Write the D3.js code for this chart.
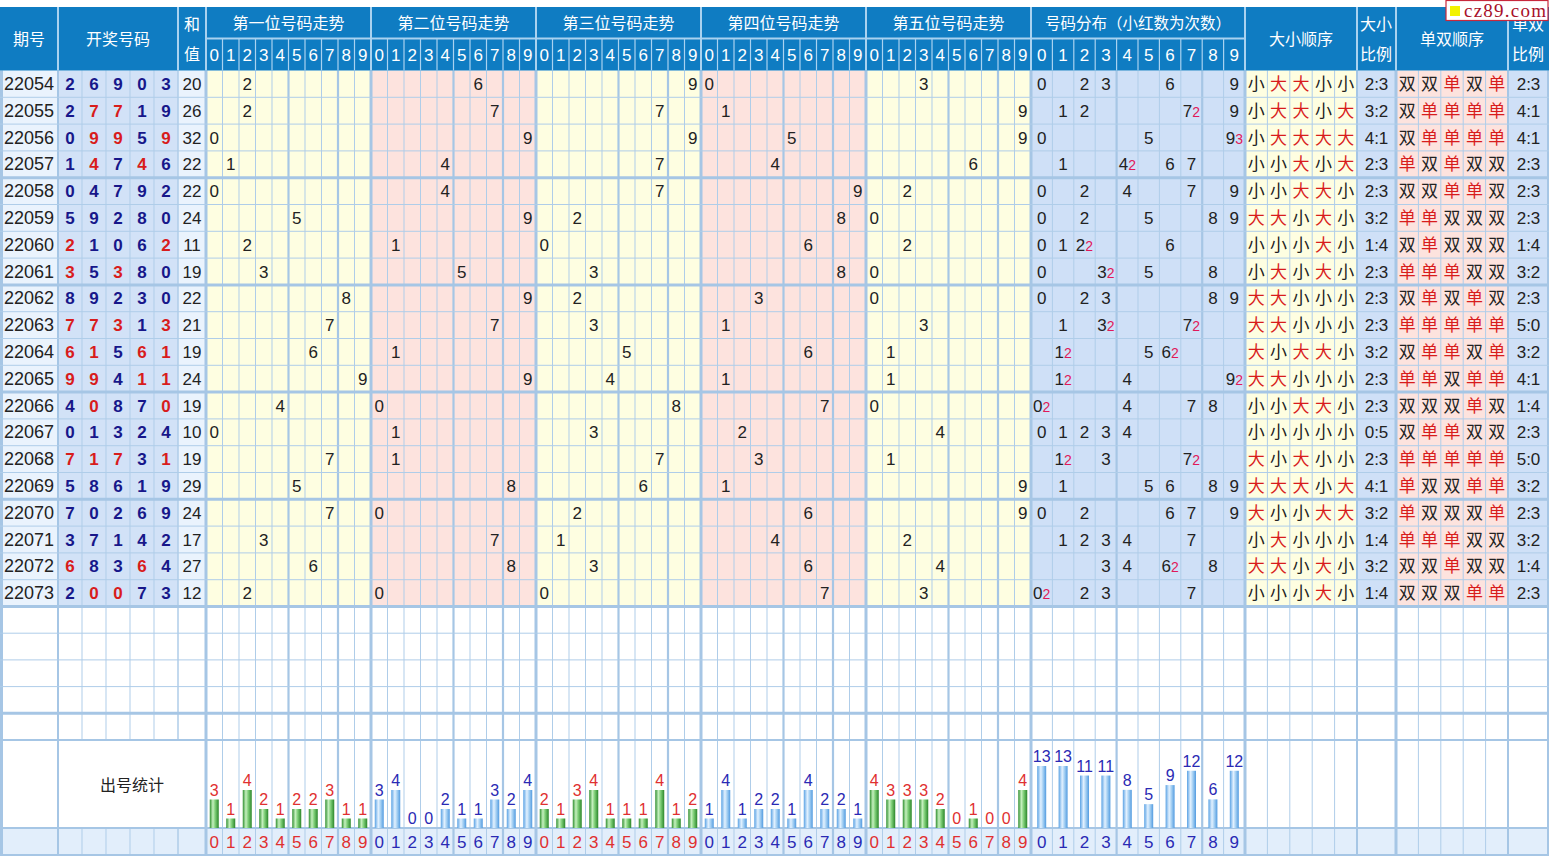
<!DOCTYPE html>
<html><head><meta charset="utf-8">
<script src="https://cdn.jsdelivr.net/npm/d3@7"></script>
<style>body{margin:0;background:#fff}svg{display:block}</style>
</head><body><svg id="c" width="1549" height="859"></svg>
<script>
// ---------------- DATA ----------------
const issues = ["22054","22055","22056","22057","22058","22059","22060","22061","22062","22063",
                "22064","22065","22066","22067","22068","22069","22070","22071","22072","22073"];
const draws = [
  [2,6,9,0,3],[2,7,7,1,9],[0,9,9,5,9],[1,4,7,4,6],[0,4,7,9,2],
  [5,9,2,8,0],[2,1,0,6,2],[3,5,3,8,0],[8,9,2,3,0],[7,7,3,1,3],
  [6,1,5,6,1],[9,9,4,1,1],[4,0,8,7,0],[0,1,3,2,4],[7,1,7,3,1],
  [5,8,6,1,9],[7,0,2,6,9],[3,7,1,4,2],[6,8,3,6,4],[2,0,0,7,3]
];
const sums = [20,26,32,22,22,24,11,19,22,21,19,24,19,10,19,29,24,17,27,12];
const digits = ["0","1","2","3","4","5","6","7","8","9"];
const posTitles = ["第一位号码走势","第二位号码走势","第三位号码走势","第四位号码走势","第五位号码走势"];
const pos1Counts = [3,1,4,2,1,2,2,3,1,1];
const pos2Counts = [3,4,0,0,2,1,1,3,2,4];
const pos3Counts = [2,1,3,4,1,1,1,4,1,2];
const pos4Counts = [1,4,1,2,2,1,4,2,2,1];
const pos5Counts = [4,3,3,3,2,0,1,0,0,4];
const posCounts = [pos1Counts,pos2Counts,pos3Counts,pos4Counts,pos5Counts];
const distCounts = [13,13,11,11,8,5,9,12,6,12];

// ---------------- LAYOUT ----------------
const svg = d3.select("#c");
const W = 1549;
const FN = "Arial, 'Liberation Sans', sans-serif";
const FC = "'Noto Sans CJK SC', 'Microsoft YaHei', sans-serif";
const headerTop = 7, headerMid = 38.5, dataTop = 70.5, dataBottom = 606.5;
const statsTop = 740, statsBottom = 828, labelBottom = 855;

const y = d3.scaleBand().domain(d3.range(issues.length)).range([dataTop, dataBottom]);
const yE = d3.scaleBand().domain(d3.range(5)).range([dataBottom, statsTop]);
const xDraw = d3.scaleBand().domain(d3.range(5)).range([58,178]);
const secX = d3.scaleLinear().domain([0,5]).range([206,1031]);
const xPos = d3.range(5).map(s => d3.scaleBand().domain(digits).range([secX(s), secX(s+1)]));
const xDist = d3.scaleBand().domain(digits).range([1031,1245]);
const xBS = d3.scaleBand().domain(d3.range(5)).range([1245,1357]);
const xOE = d3.scaleBand().domain(d3.range(5)).range([1396,1508]);
const hPos = d3.scaleLinear().domain([0,4]).range([0,38]);
const hDist = d3.scaleLinear().domain([0,13]).range([0,62]);

const C = {
  header:"#0f7cc2", headLine:"#a9d2f0", grid:"#afcde9", gridThick:"#a6c6e5",
  issueBg:"#eaf3fd", drawBg:"#d2e2f7", yellow:"#fefee1", pink:"#fde3de",
  blueBg:"#cfe0f7", labelBg:"#e2eefb", navy:"#17178a", red:"#d81c1c",
  txt:"#222", cnt:"#e0185a", barRed:"#e03030", barBlue:"#2a2ab4"
};

// defs: bar gradients
const defs = svg.append("defs");
const gG = defs.append("linearGradient").attr("id","gGreen").attr("x1","0").attr("x2","1").attr("y1","0").attr("y2","0");
[["0%","#2f8f2f"],["35%","#c6f0bf"],["60%","#7fcf78"],["100%","#2a862a"]].forEach(s=>gG.append("stop").attr("offset",s[0]).attr("stop-color",s[1]));
const gB = defs.append("linearGradient").attr("id","gBlue").attr("x1","0").attr("x2","1").attr("y1","0").attr("y2","0");
[["0%","#5aa2e4"],["40%","#e2f1ff"],["65%","#a5d0f3"],["100%","#529be0"]].forEach(s=>gB.append("stop").attr("offset",s[0]).attr("stop-color",s[1]));

// ---------------- BACKGROUNDS ----------------
const groups = [
  {x0:0,x1:58,bg:C.issueBg},{x0:58,x1:178,bg:C.drawBg},{x0:178,x1:206,bg:C.issueBg},
  ...d3.range(5).map(s=>({x0:secX(s),x1:secX(s+1),bg:s%2===0?C.yellow:C.pink})),
  {x0:1031,x1:1245,bg:C.blueBg},{x0:1245,x1:1357,bg:C.yellow},{x0:1357,x1:1396,bg:C.blueBg},
  {x0:1396,x1:1508,bg:C.pink},{x0:1508,x1:W,bg:C.blueBg}
];
svg.append("rect").attr("x",0).attr("y",0).attr("width",W).attr("height",859).attr("fill","#fff");
svg.append("g").selectAll("rect").data(groups).join("rect")
  .attr("x",d=>d.x0).attr("y",dataTop).attr("width",d=>d.x1-d.x0).attr("height",dataBottom-dataTop).attr("fill",d=>d.bg);
svg.append("rect").attr("x",0).attr("y",statsBottom).attr("width",W).attr("height",labelBottom-statsBottom).attr("fill",C.labelBg);

// ---------------- GRID ----------------
const vlines = [];
function vl(x,w,skipStats){ vlines.push({x,w,skipStats}); }
d3.range(1,5).forEach(i=>vl(xDraw(i),1,true));
vl(178,1.5,true); vl(58,2,false);
d3.range(6).forEach(s=>vl(secX(s),3,false));
d3.range(5).forEach(s=>digits.slice(1).forEach((d,i)=>vl(xPos[s](d), (d==="5"||d==="8")?2.2:1,false)));
digits.slice(1).forEach(d=>vl(xDist(d),(d==="4"||d==="8")?2.2:1,false));
vl(1245,3,false); vl(1396,3,false); vl(1357,2,false); vl(1508,2,false);
d3.range(1,5).forEach(i=>{vl(xBS(i),1,false); vl(xOE(i),1,false);});
vl(1.5,3,false); vl(W-1,2,false);
const gridG = svg.append("g");
vlines.forEach(v=>{
  const segs = v.skipStats ? [[dataTop,statsTop],[statsBottom,labelBottom]] : [[dataTop,labelBottom]];
  segs.forEach(s=>gridG.append("line").attr("x1",v.x).attr("x2",v.x).attr("y1",s[0]).attr("y2",s[1])
    .attr("stroke",v.w>1.5?C.gridThick:C.grid).attr("stroke-width",v.w));
});
const hlines = [];
d3.range(1,issues.length).forEach(i=>hlines.push({y:y(i),w:(i%4===0)?3:1}));
hlines.push({y:dataBottom,w:3});
d3.range(1,5).forEach(i=>hlines.push({y:yE(i),w:(i%4===0)?3:1}));
hlines.push({y:statsTop,w:2},{y:statsBottom,w:2},{y:labelBottom,w:2});
hlines.forEach(h=>gridG.append("line").attr("x1",0).attr("x2",W).attr("y1",h.y).attr("y2",h.y)
  .attr("stroke",h.w>1.5?C.gridThick:C.grid).attr("stroke-width",h.w));

// ---------------- HEADER ----------------
const hg = svg.append("g");
hg.append("rect").attr("x",0).attr("y",headerTop).attr("width",W).attr("height",dataTop-headerTop).attr("fill",C.header);
[58,178,...d3.range(6).map(secX),1245,1357,1396,1508].forEach(x=>
  hg.append("line").attr("x1",x).attr("x2",x).attr("y1",headerTop).attr("y2",dataTop).attr("stroke",C.headLine).attr("stroke-width",2));
hg.append("line").attr("x1",206).attr("x2",1245).attr("y1",headerMid).attr("y2",headerMid).attr("stroke",C.headLine).attr("stroke-width",2);
function ht(x,yy,t,size,fam){ hg.append("text").attr("x",x).attr("y",yy).attr("text-anchor","middle")
  .attr("fill","#fff").attr("font-size",size||16).attr("font-family",fam||FC).text(t); }
ht(29,45,"期号"); ht(118,45,"开奖号码"); ht(192,30,"和"); ht(192,60,"值");
posTitles.forEach((t,s)=>ht((secX(s)+secX(s+1))/2,29,t));
ht(1138,29,"号码分布（小红数为次数）",15.5);
ht(1301,45,"大小顺序"); ht(1376,30,"大小"); ht(1376,60,"比例");
ht(1452,45,"单双顺序"); ht(1528,30,"单双"); ht(1528,60,"比例");
const headDigitScales = [...xPos, xDist];
headDigitScales.forEach(sc=>{
  digits.forEach((d,i)=>{
    if(i>0) hg.append("line").attr("x1",sc(d)).attr("x2",sc(d)).attr("y1",headerMid).attr("y2",dataTop)
      .attr("stroke",C.headLine).attr("stroke-width",1.2);
    ht(sc(d)+sc.bandwidth()/2,61,d,17,FN);
  });
});

// ---------------- DATA ROWS ----------------
const rg = svg.append("g");
function tx(x,yy,t,opt){
  opt=opt||{};
  return rg.append("text").attr("x",x).attr("y",yy).attr("text-anchor","middle")
    .attr("font-family",opt.fam||FN).attr("font-size",opt.size||17)
    .attr("font-weight",opt.bold?"bold":null).attr("fill",opt.fill||C.txt).text(t);
}
issues.forEach((iss,r)=>{
  const cy = y(r)+y.bandwidth()/2+6;
  tx(29,cy,iss,{size:18});
  const dr = draws[r];
  const freq = d3.rollup(dr,v=>v.length,d=>d);
  dr.forEach((d,i)=>tx(xDraw(i)+xDraw.bandwidth()/2,cy,d,{bold:true,fill:freq.get(d)>1?C.red:C.navy}));
  tx(192,cy,sums[r],{size:17});
  dr.forEach((d,s)=>tx(xPos[s](String(d))+xPos[s].bandwidth()/2,cy,d));
  // distribution
  Array.from(freq.keys()).forEach(d=>{
    const t = tx(xDist(String(d))+xDist.bandwidth()/2,cy,"");
    t.append("tspan").text(d);
    if(freq.get(d)>1) t.append("tspan").attr("fill",C.cnt).attr("font-size",14).text(freq.get(d));
  });
  // big/small and odd/even
  let big=0, odd=0;
  dr.forEach((d,i)=>{
    const isBig = d>=5, isOdd = d%2===1;
    if(isBig) big++; if(isOdd) odd++;
    tx(xBS(i)+xBS.bandwidth()/2,cy,isBig?"大":"小",{fam:FC,fill:isBig?C.red:C.txt});
    tx(xOE(i)+xOE.bandwidth()/2,cy,isOdd?"单":"双",{fam:FC,fill:isOdd?C.red:C.txt});
  });
  tx(1376.5,cy,big+":"+(5-big));
  tx(1528.5,cy,odd+":"+(5-odd));
});

// ---------------- STATS ROW ----------------
const sg = svg.append("g");
sg.append("text").attr("x",132).attr("y",791).attr("text-anchor","middle").attr("font-family",FC)
  .attr("font-size",16).attr("fill",C.txt).text("出号统计");
function bars(sc,counts,hs,grad,col){
  const bw = 9;
  sg.append("g").selectAll("rect").data(counts).join("rect")
    .attr("x",(v,i)=>sc(digits[i])+sc.bandwidth()/2-bw/2).attr("y",v=>statsBottom-hs(v))
    .attr("width",bw).attr("height",v=>hs(v)).attr("fill",`url(#${grad})`);
  sg.append("g").selectAll("text").data(counts).join("text")
    .attr("x",(v,i)=>sc(digits[i])+sc.bandwidth()/2).attr("y",v=>statsBottom-hs(v)-4)
    .attr("text-anchor","middle").attr("font-family",FN).attr("font-size",16).attr("fill",col).text(v=>v);
  sg.append("g").selectAll("text").data(digits).join("text")
    .attr("x",d=>sc(d)+sc.bandwidth()/2).attr("y",848).attr("text-anchor","middle")
    .attr("font-family",FN).attr("font-size",17).attr("fill",col).text(d=>d);
}
posCounts.forEach((cnt,s)=>{
  const green = s%2===0;
  bars(xPos[s],cnt,hPos,green?"gGreen":"gBlue",green?C.barRed:C.barBlue);
});
bars(xDist,distCounts,hDist,"gBlue",C.barBlue);

// ---------------- WATERMARK ----------------
const wm = svg.append("g");
wm.append("rect").attr("x",1446).attr("y",0.5).attr("width",102).attr("height",20).attr("fill","#fff").attr("stroke","#c8283c").attr("stroke-width",1.2);
wm.append("rect").attr("x",1450).attr("y",6).attr("width",10).attr("height",10).attr("fill","#f2f200");
wm.append("text").attr("x",1464).attr("y",17).attr("font-family","'Liberation Serif', 'DejaVu Serif', serif")
  .attr("font-size",19).attr("fill","#a8102a").attr("textLength",82).text("cz89.com");
</script></body></html>
